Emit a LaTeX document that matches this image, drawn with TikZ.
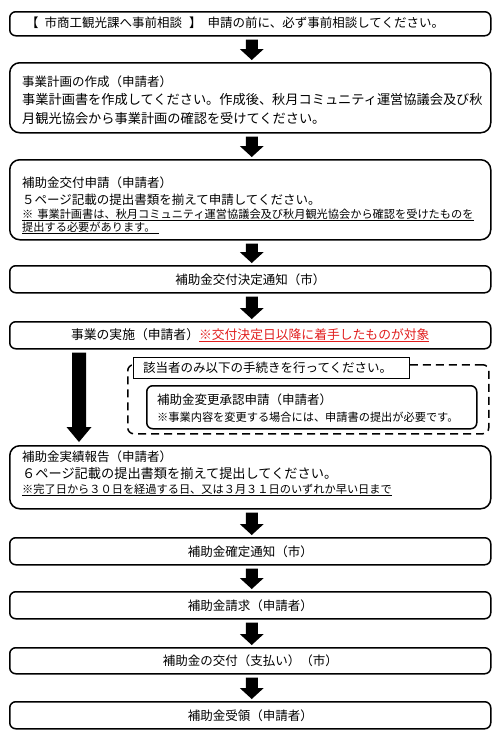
\documentclass[tikz,border=0pt]{standalone}
\usepackage{fontspec}
\setmainfont{Noto Sans CJK JP}
\usetikzlibrary{calc}
\definecolor{notered}{RGB}{225,30,30}
\begin{document}
\begin{tikzpicture}[x=1pt,y=-1pt,
  box/.style={draw, line width=1.5pt, rounded corners=#1, anchor=north west, inner sep=0pt,
    font=\fontsize{12.5pt}{15pt}\selectfont},
  box/.default=6pt,
  txt/.style={anchor=west, inner sep=0pt, font=\fontsize{12.5pt}{15pt}\selectfont},
  txtL/.style={anchor=west, inner sep=0pt, font=\fontsize{13.2pt}{15pt}\selectfont},
  txtS/.style={anchor=west, inner sep=0pt, font=\fontsize{11.2pt}{13pt}\selectfont},
  dashbox/.style={draw, line width=1.5pt, dash pattern=on 8pt off 5pt, rounded corners=6pt,
    anchor=north west, inner sep=0pt},
  lblbox/.style={draw, line width=1pt, fill=white, anchor=north west, inner sep=0pt},
  fatarrow/.style n args={3}{to path={let \p1=(\tikztostart), \p2=(\tikztotarget) in
    (\x1-#1,\y1) -- (\x1-#1,\y2+#3) -- (\x1-#2,\y2+#3) -- (\x1,\y2) -- (\x1+#2,\y2+#3)
    -- (\x1+#1,\y2+#3) -- (\x1+#1,\y1) -- cycle}},
  smallarrow/.style={fatarrow={6pt}{12pt}{11pt}},
  bigarrow/.style={fatarrow={7pt}{12.5pt}{15pt}}
]
\useasboundingbox (0,0) rectangle (500,744);

% boxes
\node[box, minimum width=481pt, minimum height=24pt] (b1) at (9,11) {};
\node[box=10pt, minimum width=481pt, minimum height=70pt] (b2) at (9,62) {};
\node[box=10pt, minimum width=481pt, minimum height=80pt] (b3) at (9,159) {};
\node[box, minimum width=481pt, minimum height=27pt] (b4) at (9,265) {補助金交付決定通知（市）};
\node[box, minimum width=481pt, minimum height=27pt, font=\fontsize{12.8pt}{15pt}\selectfont] (b5) at (9,321)
  {事業の実施（申請者）{\color{notered}\underline{※交付決定日以降に着手したものが対象}}};
\node[dashbox, minimum width=361pt, minimum height=69pt] (db) at (127,364) {};
\node[lblbox, minimum width=276pt, minimum height=21pt] (lb) at (133,357) {};
\node[box, minimum width=330pt, minimum height=43pt] (ib) at (146,385) {};
\node[box=10pt, minimum width=481pt, minimum height=63pt] (b6) at (9,445) {};
\node[box, minimum width=481pt, minimum height=27pt] (b7) at (9,537) {補助金確定通知（市）};
\node[box, minimum width=481pt, minimum height=27pt] (b8) at (9,591) {補助金請求（申請者）};
\node[box, minimum width=481pt, minimum height=26pt] (b9) at (9,647) {補助金の交付（支払い）（市）};
\node[box, minimum width=481pt, minimum height=27pt] (b10) at (9,701) {補助金受領（申請者）};

% texts
\node[txt] (t1) at (26,23) {【\hspace{6pt}市商工観光課へ事前相談\hspace{7pt}】\hspace{6pt}申請の前に、必ず事前相談してください。};
\node[txt] (t2a) at (22,82) {事業計画の作成（申請者）};
\node[txtL] (t2b) at (22,100) {事業計画書を作成してください。作成後、秋月コミュニティ運営協議会及び秋};
\node[txtL] (t2c) at (22,118) {月観光協会から事業計画の確認を受けてください。};
\node[txt] (t3a) at (22,183) {補助金交付申請（申請者）};
\node[txt] (t3b) at (22,200) {５ページ記載の提出書類を揃えて申請してください。};
\node[txtS] (t3c) at (22,215) {\underline{※\hspace{4pt}事業計画書は、秋月コミュニティ運営協議会及び秋月観光協会から確認を受けたものを}};
\node[txtS] (t3d) at (22,228) {\underline{提出する必要があります。\hspace{4pt}}};
\node[txt] (tlb) at (143,368) {該当者のみ以下の手続きを行ってください。};
\node[txt] (tib1) at (157,400) {補助金変更承認申請（申請者）};
\node[txtS] (tib2) at (157,417) {※事業内容を変更する場合には、申請書の提出が必要です。};
\node[txt] (t6a) at (22,457) {補助金実績報告（申請者）};
\node[txtL] (t6b) at (22,473) {６ページ記載の提出書類を揃えて提出してください。};
\node[txtS] (t6c) at (22,490) {\underline{※完了日から３０日を経過する日、又は３月３１日のいずれか早い日まで}};

% arrows
\foreach \s/\t in {b1/b2, b2/b3, b3/b4, b4/b5, b6/b7, b7/b8, b8/b9, b9/b10}{
  \coordinate (\s-out) at ($(\s.south)+(1.5,3)$);
  \coordinate (\t-in) at ($(\t.north)+(1.5,-2)$);
  \fill[black] (\s-out) to[smallarrow] (\t-in);
}
\coordinate (b5-down) at ($(b5.south west)+(70,3)$);
\coordinate (b6-up) at ($(b6.north west)+(70,-3)$);
\fill[black] (b5-down) to[bigarrow] (b6-up);
\end{tikzpicture}
\end{document}
